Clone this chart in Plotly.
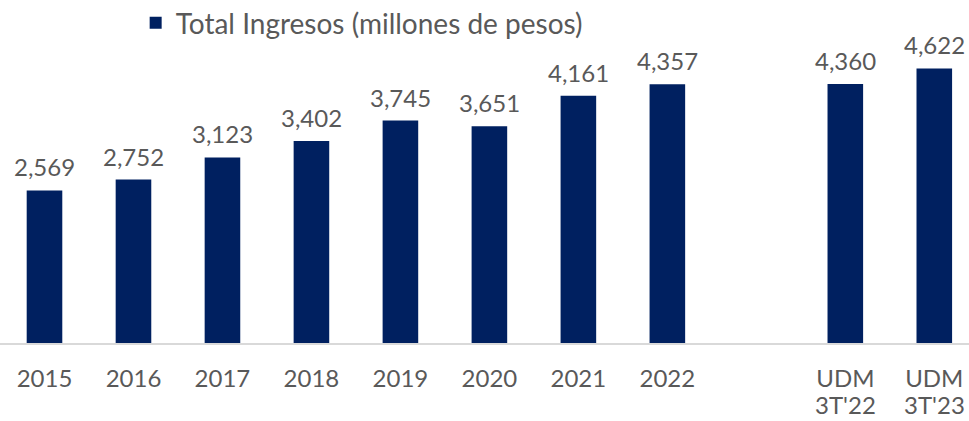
import plotly.graph_objects as go

categories = ["2015", "2016", "2017", "2018", "2019", "2020", "2021", "2022", " ", "UDM 3T'22", "UDM 3T'23"]
tick_line1 = ["2015", "2016", "2017", "2018", "2019", "2020", "2021", "2022", "", "UDM", "UDM"]
tick_line2 = ["", "", "", "", "", "", "", "", "", "3T'22", "3T'23"]
values = [2569, 2752, 3123, 3402, 3745, 3651, 4161, 4357, None, 4360, 4622]
labels = ["2,569", "2,752", "3,123", "3,402", "3,745", "3,651", "4,161", "4,357", "", "4,360", "4,622"]
series_name = "Total Ingresos (millones de pesos)"

FONT = "Lato"
GRAY = "#595959"
NAVY = "#002060"

fig = go.Figure()
fig.add_trace(go.Bar(
    x=categories, y=values, name=series_name,
    marker=dict(color=NAVY, line=dict(width=0)),
    showlegend=True, hoverinfo="x+y",
))

# data labels above bars (x given as category index on the category axis)
for i, (v, lab) in enumerate(zip(values, labels)):
    if v is not None and lab:
        fig.add_annotation(x=i, xref="x", y=v, yref="y", text=lab,
                           showarrow=False, yanchor="bottom", yshift=7,
                           font=dict(family=FONT, size=24, color=GRAY))

# second line of the two-line category labels
for i, t2 in enumerate(tick_line2):
    if t2:
        fig.add_annotation(x=i, xref="x", y=-0.2073, yref="paper",
                           text=t2, showarrow=False, yanchor="middle",
                           font=dict(family=FONT, size=24, color=GRAY))

fig.update_layout(
    width=969, height=421,
    margin=dict(l=0, r=0, t=46, b=78, autoexpand=False),
    paper_bgcolor="white", plot_bgcolor="white",
    bargap=0.6,
    font=dict(family=FONT, color=GRAY, size=24),
    showlegend=True,
    legend=dict(x=0.140, y=1.0774, xanchor="left", yanchor="middle",
                orientation="h", font=dict(family=FONT, size=28, color=GRAY),
                itemwidth=30, bgcolor="rgba(0,0,0,0)"),
    xaxis=dict(type="category", range=[-0.5, 10.39], showgrid=False,
               showline=True, linecolor="#d9d9d9", linewidth=2,
               ticks="", tickmode="array", tickvals=categories, ticktext=tick_line1,
               tickfont=dict(family=FONT, size=24, color=GRAY),
               ticklabelstandoff=13, automargin=False, fixedrange=True),
    yaxis=dict(range=[0, 5000], showgrid=False, zeroline=False,
               showticklabels=False, showline=False, automargin=False,
               fixedrange=True),
)
fig.write_html("out.html", config={"displayModeBar": False},
               post_script="document.body.style.margin='0';document.body.style.overflow='hidden';")
